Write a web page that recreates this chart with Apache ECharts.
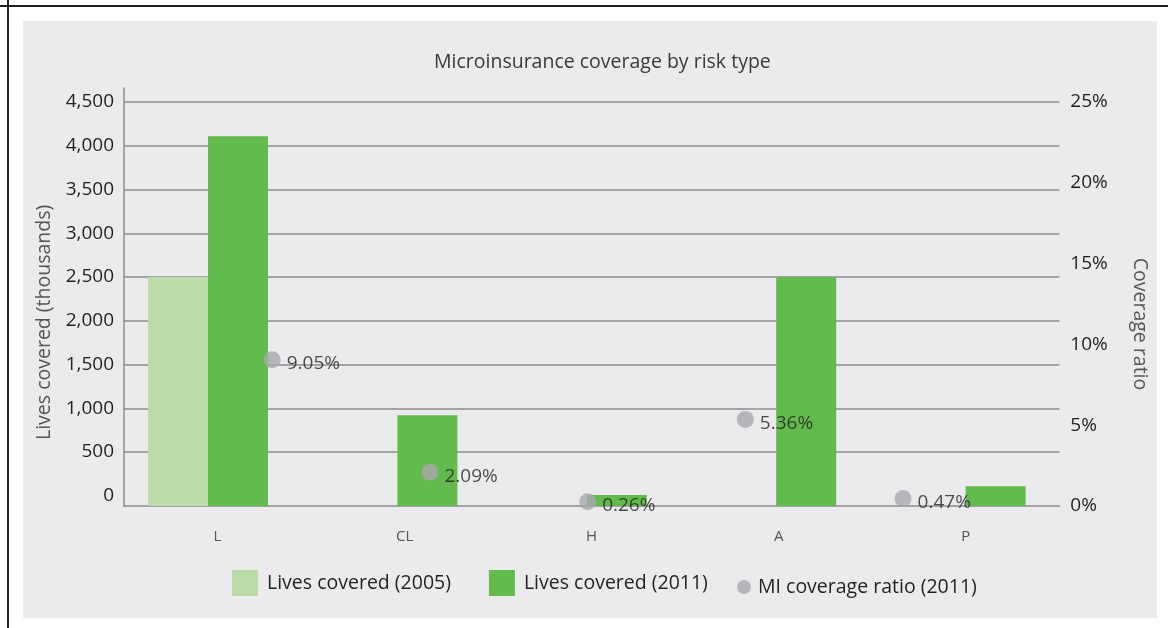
<!DOCTYPE html>
<html>
<head>
<meta charset="utf-8">
<title>Microinsurance coverage by risk type</title>
<script src="https://cdn.jsdelivr.net/npm/echarts@6/dist/echarts.min.js"></script>
<style>
  html, body { margin: 0; padding: 0; background: #ffffff; }
  #rule-top  { position: absolute; left: 0; top: 5px; width: 1168px; height: 2px; background: #231f20; }
  #rule-left { position: absolute; left: 7px; top: 0; width: 2px; height: 628px; background: #231f20; }
  #panel     { position: absolute; left: 23px; top: 21px; width: 1134px; height: 597px; background: #ebebed; }
  #chart     { position: absolute; left: 0; top: 0; width: 1168px; height: 628px; }
</style>
</head>
<body>
<div id="rule-top"></div>
<div id="rule-left"></div>
<div id="panel"></div>
<div id="chart"></div>
<script>
// ---- data ----
const categories = ['L', 'CL', 'H', 'A', 'P'];
const lives2005 = [2500, null, null, null, null];      // thousands
const lives2011 = [4110, 920, 10, 2500, 110];          // thousands
const ratio2011 = [9.05, 2.09, 0.26, 5.36, 0.47];      // percent
const livesTicks = [0, 500, 1000, 1500, 2000, 2500, 3000, 3500, 4000, 4500];
const ratioTicks = [0, 5, 10, 15, 20, 25];

// ---- layout (pixels) ----
const FONT = '"Open Sans", "Noto Sans", sans-serif';
const GRID_COLOR = '#8d8d8d';
const TEXT_DARK = '#231f20';
const plotLeft = 124, plotRight = 1059.3;       // visible axis frame
const gridTop = 102, zeroLine = 495.75;         // top and zero gridlines
const axisLineY = 506, axisTop = 88;            // category axis line / value axis line top
const barsLeft = 113.3, barsRight = 1060.3;     // bar group band
const dotsLeft = 193.4, dotsRight = 981.9;      // ratio marker band

const livesMax = livesTicks[livesTicks.length - 1];
const livesStep = livesTicks[1] - livesTicks[0];
const pxPerUnit = (zeroLine - gridTop) / livesMax;
// bars share the gridline scale but grow from the category axis line
const barsMin = -(axisLineY - zeroLine) / pxPerUnit;
const barsMax = livesMax + (gridTop - axisTop) / pxPerUnit;

const ratioMax = ratioTicks[ratioTicks.length - 1];
const ratioStep = ratioTicks[1] - ratioTicks[0];

const chart = echarts.init(document.getElementById('chart'), null, { renderer: 'canvas' });

const option = {
  animation: false,
  backgroundColor: 'transparent',
  textStyle: { fontFamily: FONT },
  title: {
    text: 'Microinsurance coverage by risk type',
    left: 434,
    top: 52,
    padding: 0,
    textStyle: { fontFamily: FONT, fontSize: 19.5, fontWeight: 'normal', color: '#3a3a3a' }
  },
  legend: [
    {
      data: ['Lives covered (2005)', 'Lives covered (2011)'],
      left: 232, top: 570, padding: 0,
      icon: 'rect', itemWidth: 26, itemHeight: 26, itemGap: 38,
      textStyle: { fontFamily: FONT, fontSize: 19.5, color: TEXT_DARK, padding: [0, 0, 0, 4] }
    },
    {
      data: ['MI coverage ratio (2011)'],
      left: 737, top: 577, padding: 0,
      icon: 'circle', itemWidth: 14, itemHeight: 14,
      textStyle: { fontFamily: FONT, fontSize: 19.5, color: TEXT_DARK, padding: [0, 0, 0, 2] }
    }
  ],
  grid: [
    { left: plotLeft, width: plotRight - plotLeft, top: gridTop, height: zeroLine - gridTop },
    { left: barsLeft, width: barsRight - barsLeft, top: axisTop, height: axisLineY - axisTop },
    { left: dotsLeft, width: dotsRight - dotsLeft, top: gridTop, height: axisLineY - gridTop }
  ],
  xAxis: [
    {
      gridIndex: 0, type: 'category', data: categories,
      offset: axisLineY - zeroLine,
      axisLine: { onZero: false, lineStyle: { color: GRID_COLOR, width: 1.5 } },
      axisTick: { inside: true, length: 6, lineStyle: { color: GRID_COLOR, width: 1.5 } },
      axisLabel: { margin: 23, fontFamily: FONT, fontSize: 15, color: '#555555' },
      splitLine: { show: false }
    },
    { gridIndex: 1, type: 'category', data: categories, show: false },
    { gridIndex: 2, type: 'category', data: categories, show: false }
  ],
  yAxis: [
    {
      gridIndex: 0, type: 'value', min: 0, max: livesMax, interval: livesStep,
      axisLine: { show: false }, axisTick: { show: false },
      axisLabel: {
        margin: 10, fontFamily: FONT, fontSize: 19, color: TEXT_DARK,
        formatter: v => v.toLocaleString('en-US')
      },
      splitLine: { show: true, showMinLine: false, lineStyle: { color: GRID_COLOR, width: 1.5 } },
      name: 'Lives covered (thousands)',
      nameLocation: 'middle', nameRotate: 90, nameGap: 63,
      nameTextStyle: { fontFamily: FONT, fontSize: 19.5, color: '#555555', padding: [0, 47, 0, 0] }
    },
    {
      gridIndex: 1, type: 'value', min: barsMin, max: barsMax, startValue: barsMin,
      offset: -(plotLeft - barsLeft),
      axisLine: { show: true, onZero: false, lineStyle: { color: GRID_COLOR, width: 1.5 } },
      axisTick: { show: false }, axisLabel: { show: false }, splitLine: { show: false }
    },
    {
      gridIndex: 2, type: 'value', min: 0, max: ratioMax, interval: ratioStep,
      position: 'right', offset: plotRight - dotsRight,
      axisLine: { show: false }, axisTick: { show: false }, splitLine: { show: false },
      axisLabel: { margin: 11, fontFamily: FONT, fontSize: 19, color: TEXT_DARK, formatter: '{value}%' },
      name: 'Coverage ratio',
      nameLocation: 'middle', nameRotate: -90, nameGap: 70,
      nameTextStyle: { fontFamily: FONT, fontSize: 19.5, color: '#555555', padding: [0, 0, 0, 40] }
    }
  ],
  series: [
    {
      name: 'Lives covered (2005)', type: 'bar', xAxisIndex: 1, yAxisIndex: 1,
      data: lives2005, barWidth: 60, barGap: '0%',
      itemStyle: { color: '#bbdca8' }
    },
    {
      name: 'Lives covered (2011)', type: 'bar', xAxisIndex: 1, yAxisIndex: 1,
      data: lives2011, barWidth: 60, barGap: '0%',
      itemStyle: { color: '#63bb4d' }
    },
    {
      name: 'MI coverage ratio (2011)', type: 'scatter', xAxisIndex: 2, yAxisIndex: 2,
      data: ratio2011, symbol: 'circle', symbolSize: 17, z: 5,
      itemStyle: { color: '#a8a8ac' },
      label: {
        show: true, position: 'right', distance: 6, offset: [0, 4],
        fontFamily: FONT, fontSize: 19, color: TEXT_DARK,
        formatter: p => p.value.toFixed(2) + '%'
      }
    }
  ]
};

chart.setOption(option);
</script>
</body>
</html>
